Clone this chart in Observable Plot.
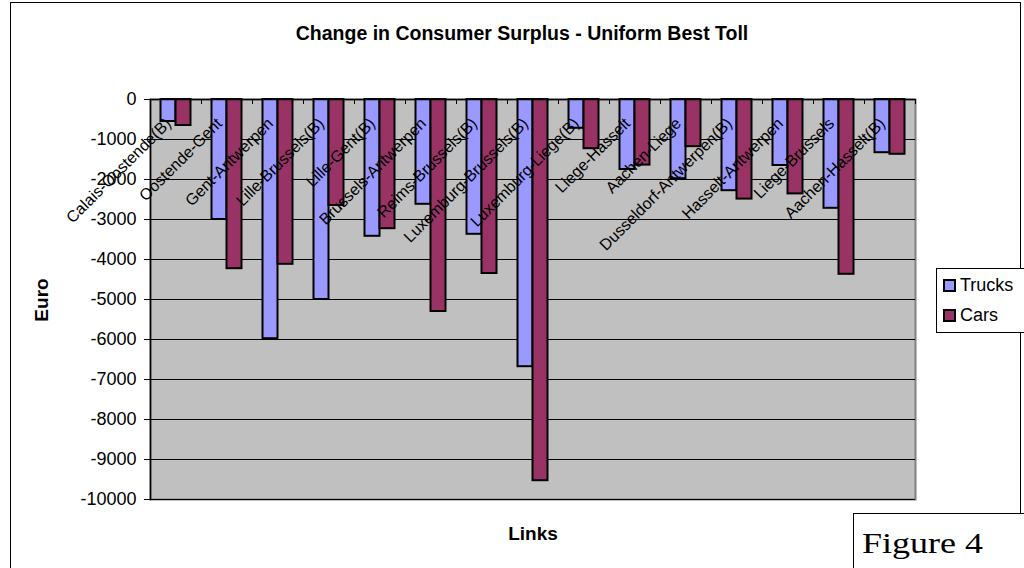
<!DOCTYPE html>
<html>
<head>
<meta charset="utf-8">
<script src="https://cdn.jsdelivr.net/npm/d3@7"></script>
<script src="https://cdn.jsdelivr.net/npm/@observablehq/plot@0.6"></script>
<style>
  html, body { margin: 0; padding: 0; background: #fff; }
  #wrap { position: relative; width: 1024px; height: 568px; overflow: hidden; font-family: "Liberation Sans", Arial, sans-serif; }
  #wrap svg { position: absolute; left: 0; top: 0; }
  .abs { position: absolute; white-space: nowrap; }
</style>
</head>
<body>
<div id="wrap"></div>
<script>
const categories = [
  "Calais-Oostende(B)", "Oostende-Gent", "Gent-Antwerpen", "Lille-Brussels(B)",
  "Lille-Gent(B)", "Brussels-Antwerpen", "Reims-Brussels(B)", "Luxemburg-Brussels(B)",
  "Luxemburg-Liege(B)", "Liege-Hasselt", "Aachen-Liege", "Dusseldorf-Antwerpen(B)",
  "Hasselt-Antwerpen", "Liege-Brussels", "Aachen-Hasselt(B)"
];
const trucks = [-550, -3000, -5980, -5000, -3420, -2620, -3370, -6680, -720, -1750, -1980, -2280, -1650, -2720, -1330];
const cars   = [-650, -4230, -4120, -2650, -3230, -5300, -4350, -9530, -1230, -1640, -1180, -2490, -2360, -4370, -1370];
const seriesNames = ["Trucks", "Cars"];
const seriesColors = ["#9999FF", "#993366"];
const yTicks = [0, -1000, -2000, -3000, -4000, -5000, -6000, -7000, -8000, -9000, -10000];
const titleText = "Change in Consumer Surplus - Uniform Best Toll";
const yTitle = "Euro";
const xTitle = "Links";
const figureText = "Figure 4";

const W = 1024, H = 568;
const mL = 150, mR = 109, mT = 99, mB = 69;
const step = (W - mL - mR) / categories.length;
const barW = 15;
const outer = (step - 2 * barW) / 2;
const plotH = H - mT - mB;

const truckData = categories.map((c, i) => ({link: c, value: trucks[i], series: seriesNames[0]}));
const carData = categories.map((c, i) => ({link: c, value: cars[i], series: seriesNames[1]}));

const chart = Plot.plot({
  width: W, height: H,
  marginLeft: mL, marginRight: mR, marginTop: mT, marginBottom: mB,
  style: {background: "transparent", fontFamily: "'Liberation Sans', Arial, sans-serif", color: "#000"},
  x: {domain: categories, padding: 0, axis: null},
  y: {domain: [-10000, 0], axis: null},
  color: {domain: seriesNames, range: seriesColors},
  marks: [
    Plot.frame({fill: "#C0C0C0", stroke: "#808080", strokeWidth: 2}),
    Plot.ruleY(yTicks, {stroke: "#000", strokeWidth: 1}),
    Plot.barY(truckData, {x: "link", y: "value", fill: "series", stroke: "#000", strokeWidth: 2,
      insetLeft: outer, insetRight: step - outer - barW}),
    Plot.barY(carData, {x: "link", y: "value", fill: "series", stroke: "#000", strokeWidth: 2,
      insetLeft: outer + barW, insetRight: outer}),
    Plot.ruleY([0], {stroke: "#000", strokeWidth: 1.5}),
    Plot.ruleX(categories, {x: d => d, dx: -step / 2, insetBottom: plotH - 5, stroke: "#000"}),
    Plot.ruleX(categories.slice(-1), {x: d => d, dx: step / 2, insetBottom: plotH - 5, stroke: "#000"}),
    Plot.frame({anchor: "left", stroke: "#000", strokeWidth: 1.5}),
    Plot.axisY(yTicks, {label: null, tickSize: 6, tickPadding: 8, fontSize: 18, tickFormat: d => String(d), stroke: "#000"}),
    Plot.text(categories, {x: d => d, frameAnchor: "top", rotate: -45, textAnchor: "end",
      dx: -12, dy: 17, fontSize: 16, fill: "#000"})
  ]
});

const wrap = document.getElementById("wrap");
wrap.appendChild(chart);

function addDiv(text, css) {
  const d = document.createElement("div");
  d.className = "abs";
  d.textContent = text;
  Object.assign(d.style, css);
  wrap.appendChild(d);
  return d;
}
// outer border
const border = document.createElement("div");
Object.assign(border.style, {position: "absolute", left: "10px", top: "2px", width: "1011px", height: "580px", border: "1px solid #000", boxSizing: "border-box"});
wrap.appendChild(border);

addDiv(titleText, {left: "522px", top: "22px", transform: "translateX(-50%)", fontWeight: "bold", fontSize: "19.5px"});
addDiv(yTitle, {left: "42px", top: "300px", transform: "translate(-50%,-50%) rotate(-90deg)", fontWeight: "bold", fontSize: "19px"});
addDiv(xTitle, {left: "533px", top: "523px", transform: "translateX(-50%)", fontWeight: "bold", fontSize: "19px"});

// legend
const leg = document.createElement("div");
Object.assign(leg.style, {position: "absolute", left: "936px", top: "268px", width: "100px", height: "65px", border: "1px solid #000", boxSizing: "border-box", background: "#fff"});
wrap.appendChild(leg);
seriesNames.forEach((s, i) => {
  const row = document.createElement("div");
  Object.assign(row.style, {position: "absolute", left: "6px", top: (5 + i * 30) + "px", display: "flex", alignItems: "center", fontSize: "18px", lineHeight: "22px"});
  const sw = document.createElement("span");
  Object.assign(sw.style, {display: "inline-block", width: "9px", height: "9px", border: "2px solid #000", background: seriesColors[i], marginRight: "4px"});
  row.appendChild(sw);
  row.appendChild(document.createTextNode(s));
  leg.appendChild(row);
});

// figure box
const fig = document.createElement("div");
Object.assign(fig.style, {position: "absolute", left: "853px", top: "513px", width: "200px", height: "80px", borderLeft: "1px solid #000", borderTop: "1px solid #000", background: "#fff", boxSizing: "border-box"});
wrap.appendChild(fig);
addDiv(figureText, {left: "862px", top: "526px", fontFamily: "'Liberation Serif', 'Times New Roman', serif", fontSize: "30px", transform: "scaleX(1.2)", transformOrigin: "left center"});
</script>
</body>
</html>
